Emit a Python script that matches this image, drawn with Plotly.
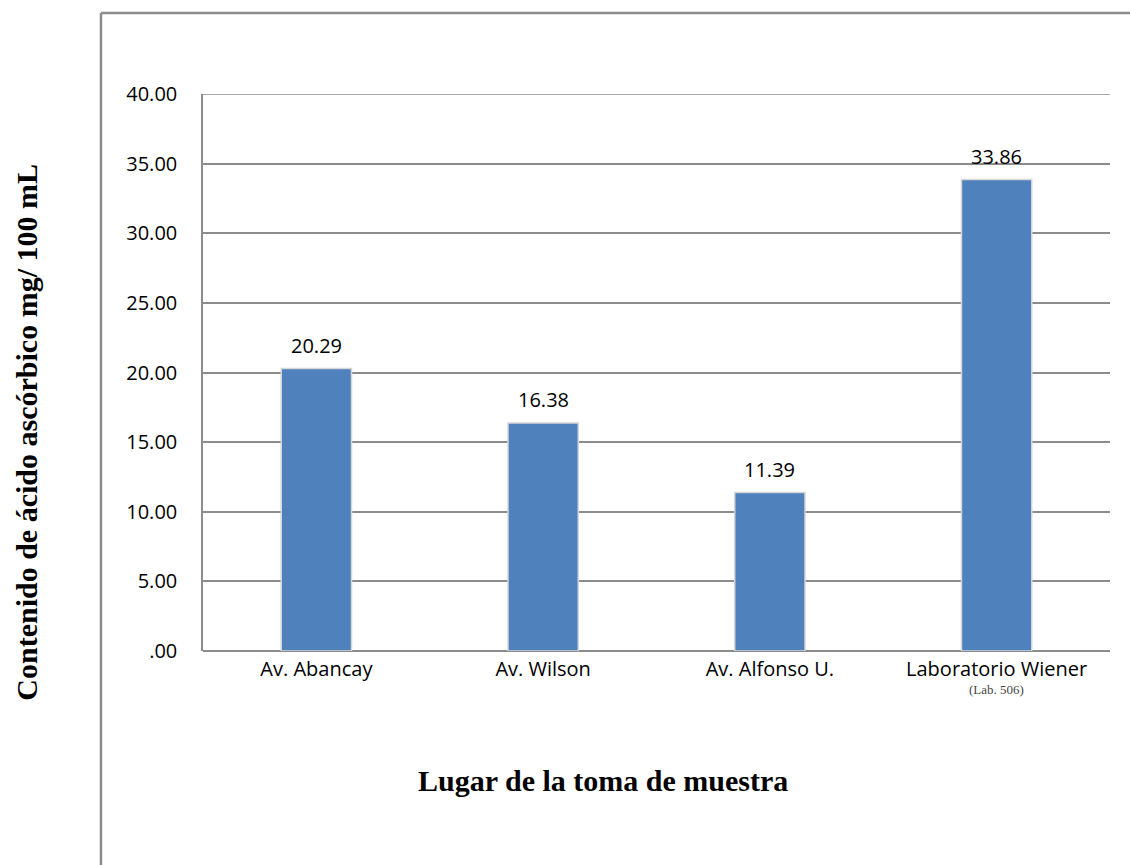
import plotly.graph_objects as go

# Sampling sites and ascorbic acid content (mg / 100 mL)
lugares = ["Av. Abancay", "Av. Wilson", "Av. Alfonso U.", "Laboratorio Wiener"]
contenido = [20.29, 16.38, 11.39, 33.86]
etiquetas = ["20.29", "16.38", "11.39", "33.86"]

ticks_y = [0, 5, 10, 15, 20, 25, 30, 35, 40]
ticks_y_txt = [".00", "5.00", "10.00", "15.00", "20.00", "25.00", "30.00", "35.00", "40.00"]

grid_color = "#8c8c8c"
bar_color = "#4F81BD"
label_font = dict(family="Open Sans, Liberation Sans, sans-serif", size=20, color="#000000")
title_font = dict(family="Liberation Serif, Times New Roman, serif", size=30, color="#000000")

fig = go.Figure()
fig.add_trace(go.Bar(
    x=lugares,
    y=contenido,
    width=0.31,
    marker=dict(color=bar_color, line=dict(color="#d6d6d6", width=1.5)),
))

# Value labels above each bar
for lugar, valor, txt in zip(lugares, contenido, etiquetas):
    fig.add_annotation(
        x=lugar, y=valor, xref="x", yref="y",
        yshift=23, showarrow=False, text=txt, font=label_font,
    )

fig.update_layout(
    width=1130,
    height=865,
    margin=dict(l=203, r=20, t=94, b=214),
    paper_bgcolor="white",
    plot_bgcolor="white",
    showlegend=False,
    bargap=0.69,
    xaxis=dict(
        tickfont=label_font,
        showgrid=False,
        showline=False,
        ticks="",
        ticklabelstandoff=4,
    ),
    yaxis=dict(
        range=[0, 40],
        tickvals=ticks_y,
        ticktext=ticks_y_txt,
        tickfont=label_font,
        showgrid=True,
        gridcolor=grid_color,
        gridwidth=1.5,
        showline=True,
        linecolor=grid_color,
        linewidth=1.5,
        zeroline=True,
        zerolinecolor=grid_color,
        zerolinewidth=1.5,
        ticks="",
        ticklabelstandoff=20,
    ),
)

# Top gridline at the axis maximum (drawn explicitly since it sits on the plot edge)
fig.add_shape(type="line", xref="paper", yref="y",
              x0=0, x1=1, y0=ticks_y[-1], y1=ticks_y[-1],
              line=dict(color=grid_color, width=1.5), layer="below")

# Sub-label under the last category
fig.add_annotation(
    x=lugares[3], y=0, xref="x", yref="y",
    yshift=-38, showarrow=False,
    text="(Lab. 506)",
    font=dict(family="Liberation Serif, serif", size=13, color="#444444"),
)

# Axis titles
fig.add_annotation(
    x=0.441, y=-0.2316, xref="paper", yref="paper",
    xanchor="center", yanchor="middle",
    showarrow=False, text="<b>Lugar de la toma de muestra</b>",
    font=title_font,
)
fig.add_annotation(
    x=-0.194, y=0.392, xref="paper", yref="paper",
    xanchor="center", yanchor="middle",
    showarrow=False, textangle=-90, text="<b>Contenido de ácido ascórbico mg/ 100 mL</b>",
    font=title_font,
)

# Outer frame (left and top edges)
frame = dict(color="#8c8c8c", width=2.5)
fig.add_shape(type="line", xref="paper", yref="paper",
              x0=-0.1125, x1=-0.1125, y0=1.1454, y1=-0.39, line=frame)
fig.add_shape(type="line", xref="paper", yref="paper",
              x0=-0.1125, x1=1.03, y0=1.1454, y1=1.1454, line=frame)

fig.write_html("out.html")
